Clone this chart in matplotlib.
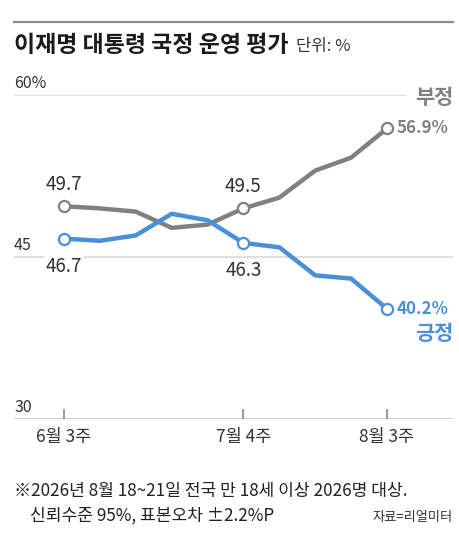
import matplotlib.pyplot as plt
from matplotlib.lines import Line2D

# weekly approval survey, 6월 3주 -> 8월 3주
weeks = ['6월 3주', '', '', '', '', '7월 4주', '', '', '', '8월 3주']
neg = [49.7, 49.5, 49.2, 47.7, 48.0, 49.5, 50.5, 53.0, 54.2, 56.9]
pos = [46.7, 46.5, 47.0, 49.0, 48.4, 46.3, 45.9, 43.3, 43.0, 40.2]
yticks = [30, 45, 60]
mark_idx = [0, 5, 9]

GRAY = '#808080'
BLUE = '#4a90d9'
FONT = ['Noto Sans CJK KR', 'DejaVu Sans']

plt.rcParams['font.family'] = FONT

W, H = 460, 534
fig = plt.figure(figsize=(W / 100, H / 100), dpi=100)


def fx(x):
    return x / W


def fy(y):
    return 1 - y / H


# plot area: x index 0 at px 64, index 9 at px 387; y 30 at px 419, 60 at px 95
left, right = 14, 453
top, bottom = 95, 419
ax = fig.add_axes([fx(left), fy(bottom), fx(right - left), (bottom - top) / H])
step = (387 - 64) / 9
ax.set_xlim((left - 64) / step, (right - 64) / step)
ax.set_ylim(30, 60)
ax.axis('off')

xs = list(range(len(neg)))
x0 = (left - 64) / step

# grid
ax.axhline(60, xmin=0, xmax=(405 - left) / (right - left), color='#d9d9d9', lw=1.2, zorder=1)
ax.axhline(45, color='#d9d9d9', lw=1.2, zorder=1)
ax.axhline(30, color='#c8c8c8', lw=1.2, zorder=1)
for i, lab in enumerate(weeks):
    if lab:
        ax.plot([i, i], [30, 30.85], color='#888888', lw=1.2, zorder=1)
        ax.text(i, 28.3, lab, ha='center', va='center', fontsize=12.5,
                color='#333333')

for v in yticks:
    lab = f'{v}%' if v == 60 else f'{v}'
    ax.text(x0, v + 1.1, lab, ha='left', va='center', fontsize=11.5, color='#333333')

# lines
ax.plot(xs, neg, color=GRAY, lw=3.2, solid_joinstyle='round', zorder=3,
        marker='o', markevery=mark_idx, markersize=8, markerfacecolor='white',
        markeredgecolor=GRAY, markeredgewidth=1.6)
ax.plot(xs, pos, color=BLUE, lw=3.2, solid_joinstyle='round', zorder=4,
        marker='o', markevery=mark_idx, markersize=8, markerfacecolor='white',
        markeredgecolor=BLUE, markeredgewidth=1.6)

# value labels
for i in mark_idx[:2]:
    ax.annotate(f'{neg[i]}', (i, neg[i]), xytext=(0, 16), textcoords='offset points',
                ha='center', va='center', fontsize=13.5, color='#333333')
    ax.annotate(f'{pos[i]}', (i, pos[i]), xytext=(0, -20), textcoords='offset points',
                ha='center', va='center', fontsize=13.5, color='#333333',
                bbox=dict(facecolor='white', edgecolor='none', pad=1.5), zorder=2)

ax.annotate(f'{neg[-1]}%', (9, neg[-1]), xytext=(7, 0), textcoords='offset points',
            ha='left', va='center', fontsize=12.2, color=GRAY, fontweight='bold')
ax.annotate(f'{pos[-1]}%', (9, pos[-1]), xytext=(7, 0), textcoords='offset points',
            ha='left', va='center', fontsize=12.2, color=BLUE, fontweight='bold')

fig.text(fx(453), fy(97), '부정', ha='right', va='center', fontsize=15,
         color=GRAY, fontweight='bold')
fig.text(fx(453), fy(334), '긍정', ha='right', va='center', fontsize=15,
         color=BLUE, fontweight='bold')

# header
fig.add_artist(Line2D([fx(14), fx(453)], [fy(22), fy(22)], color='#8c8c8c', lw=1.6))
fig.text(fx(14), fy(46), '이재명 대통령 국정 운영 평가', ha='left', va='center',
         fontsize=16.5, fontweight='bold', color='#1a1a1a')
fig.text(fx(296), fy(47), '단위: %', ha='left', va='center', fontsize=12,
         color='#333333')

# footer
fig.text(fx(14), fy(491), '※2026년 8월 18~21일 전국 만 18세 이상 2026명 대상.',
         ha='left', va='center', fontsize=12.3, color='#222222')
fig.text(fx(30), fy(516), '신뢰수준 95%, 표본오차 ±2.2%P',
         ha='left', va='center', fontsize=12.3, color='#222222')
fig.text(fx(453), fy(518), '자료=리얼미터', ha='right', va='center',
         fontsize=9.5, color='#333333')

fig.savefig('out.png', dpi=100)
